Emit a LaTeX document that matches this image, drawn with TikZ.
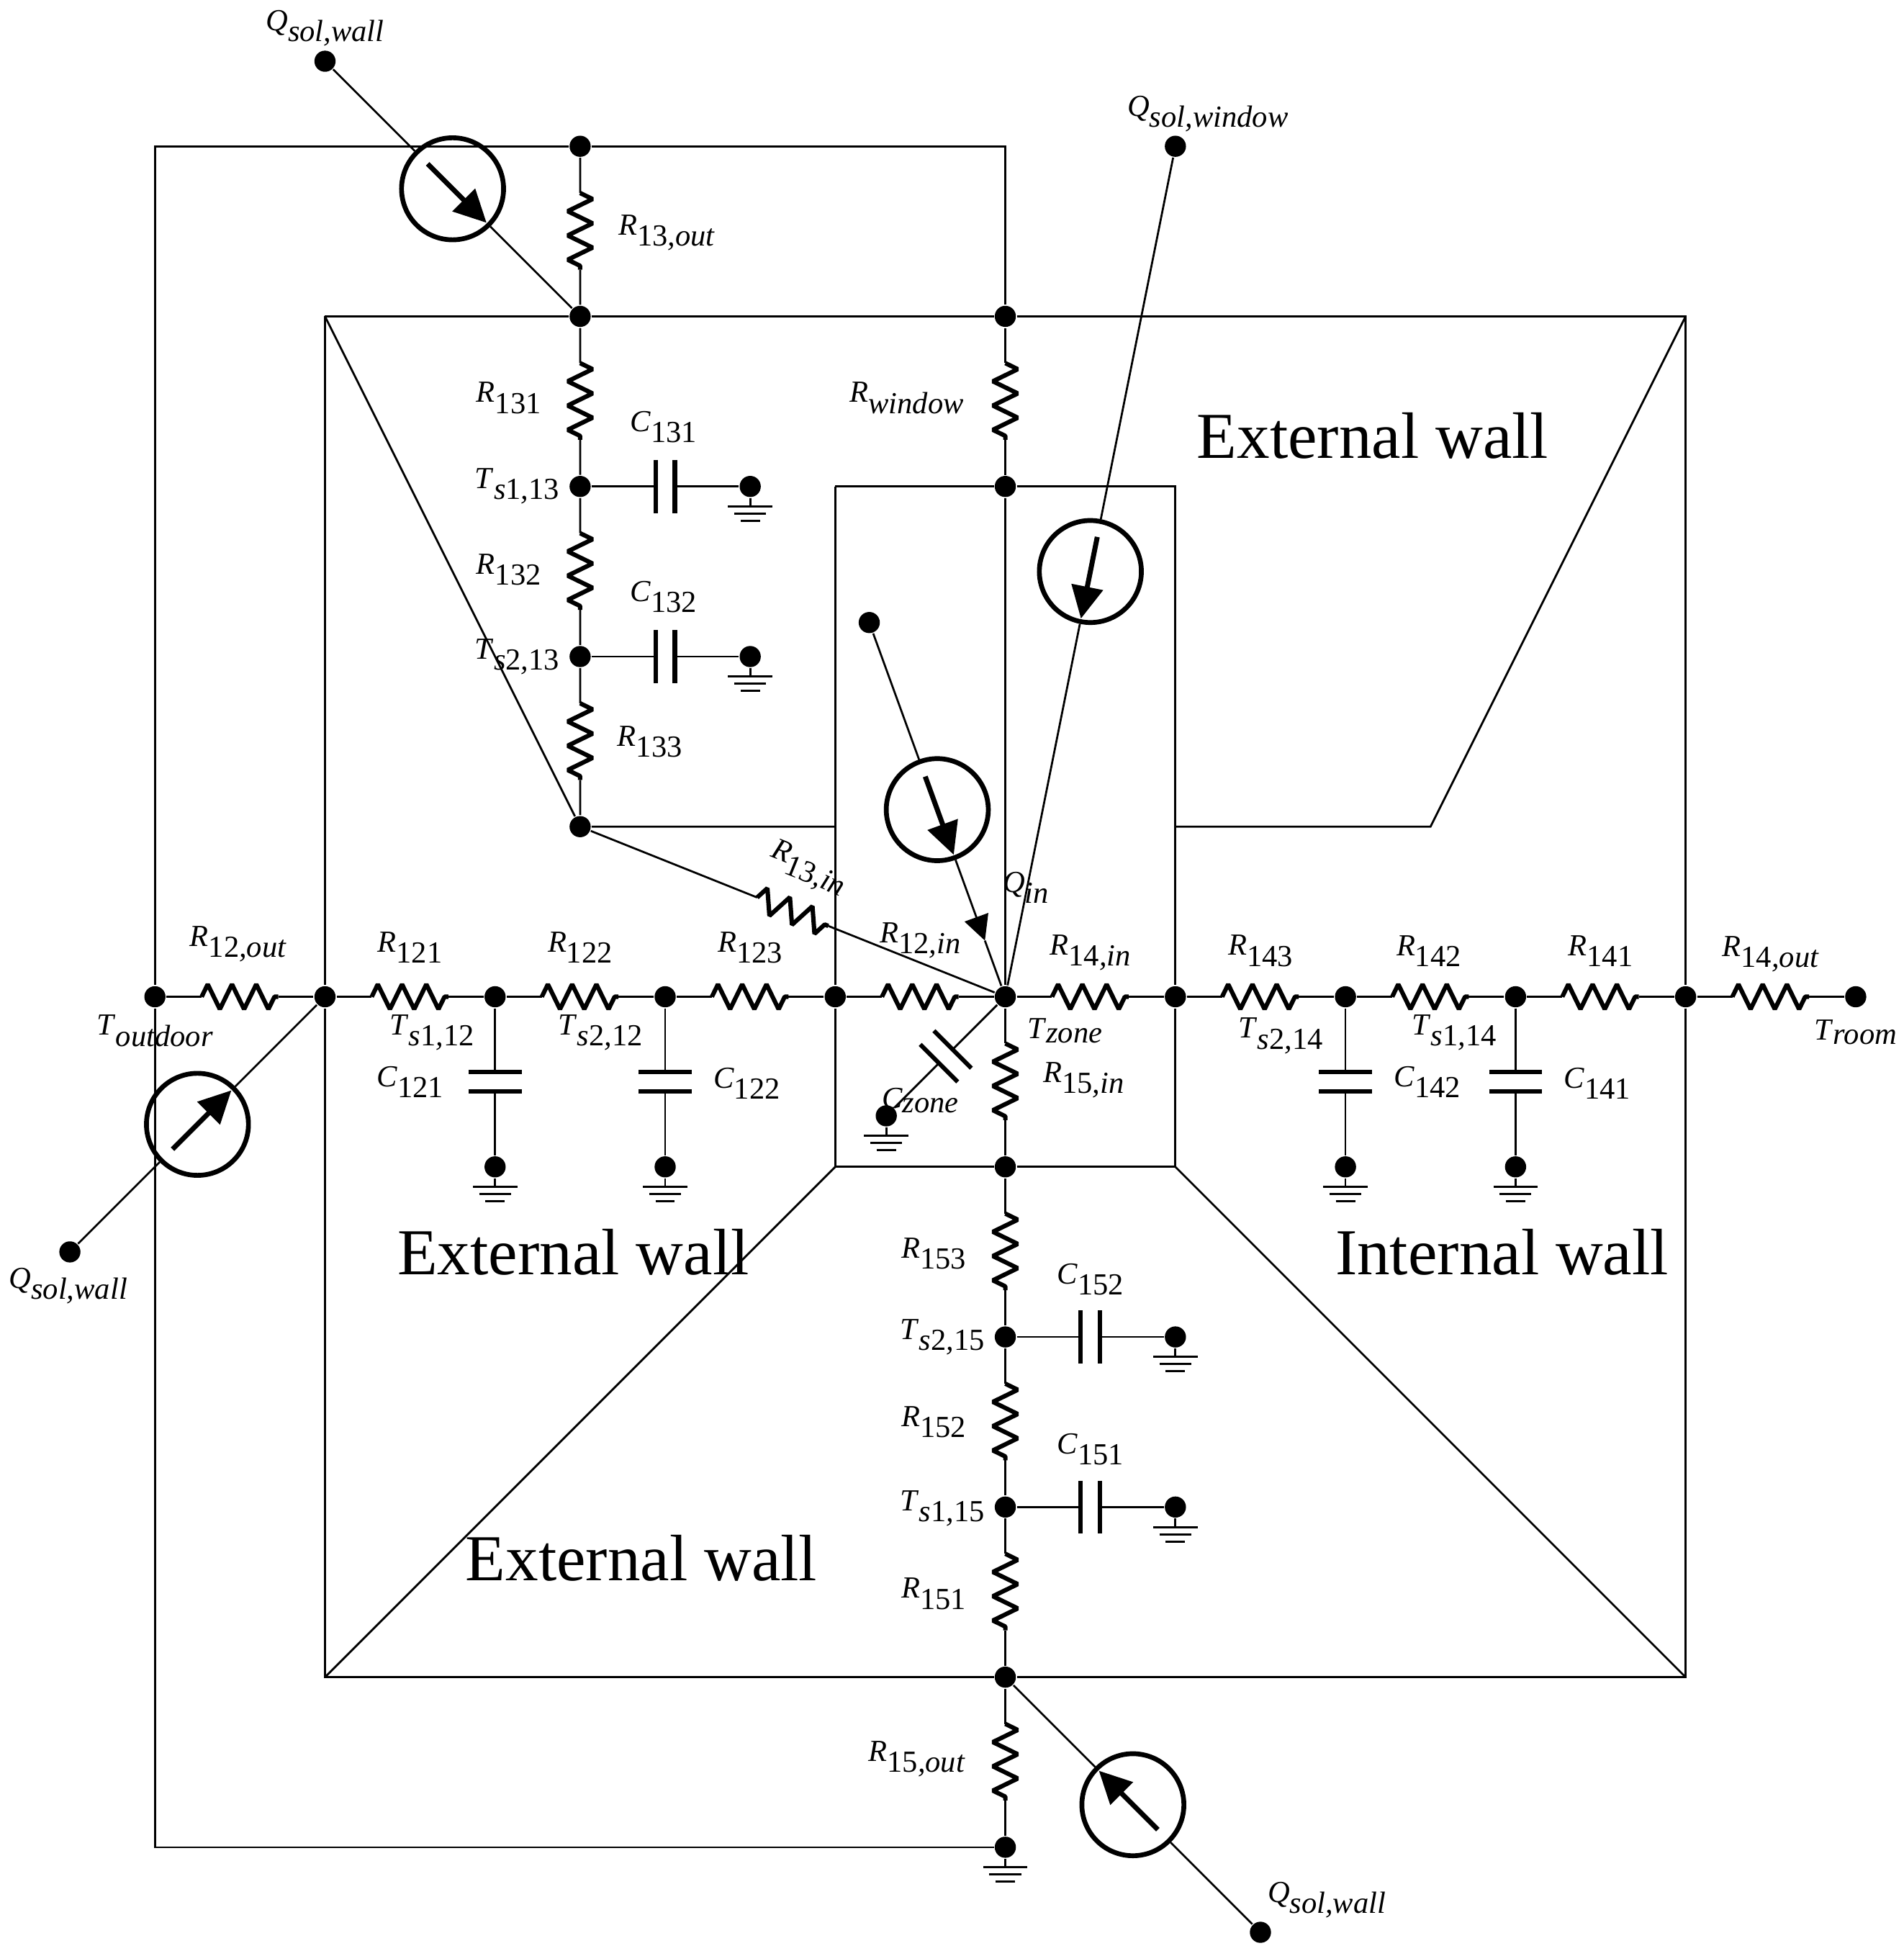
\documentclass[tikz,border=0pt]{standalone}
\usepackage{fontspec}
\setmainfont{Liberation Serif}
\usetikzlibrary{arrows.meta}
\usetikzlibrary{calc}
\usetikzlibrary{decorations.pathmorphing}
\newcommand{\lbl}[3][2.5pt]{\textit{#2}\raisebox{-#1}{#3}}

\begin{document}
\begin{tikzpicture}[x=1.367cm,y=1.367cm,line width=.45pt,
    dot/.style={circle,fill,inner sep=0,minimum size=.17cm},
    res/.style={inner sep=0,minimum width=.6cm,minimum height=.21cm,
      append after command={(\tikzlastnode.west) edge[line width=1pt,line join=bevel,decorate,decoration={zigzag,amplitude=.1cm,segment length=.195cm}] (\tikzlastnode.east)}},
    capa/.style={inner sep=0,minimum width=.14cm,minimum height=.41cm,
      append after command={(\tikzlastnode.north west) edge[line width=1pt] (\tikzlastnode.south west)
        (\tikzlastnode.north east) edge[line width=1pt] (\tikzlastnode.south east)}},
    ground/.style={inner sep=0,minimum width=.34cm,minimum height=.1cm,
      append after command={(\tikzlastnode.north west) edge[line width=.5pt] (\tikzlastnode.north east)
        ([xshift=.05cm]\tikzlastnode.west) edge[line width=.5pt] ([xshift=-.05cm]\tikzlastnode.east)
        ([xshift=.1cm]\tikzlastnode.south west) edge[line width=.5pt] ([xshift=-.1cm]\tikzlastnode.south east)}},
    src/.style={circle,draw,line width=1.1pt,inner sep=0,minimum size=.82cm,
      append after command={($(\tikzlastnode.west)!.17!(\tikzlastnode.east)$) edge[line width=1.15pt,-{Triangle[length=.26cm,width=.25cm]}] ($(\tikzlastnode.west)!.95!(\tikzlastnode.east)$)}},
    lab/.style={inner sep=0,font=\fontsize{7}{8.4}\selectfont},
    wall/.style={inner sep=0,font=\fontsize{15}{18}\selectfont}]

      \useasboundingbox (-5.911,5.86) rectangle (5.282,-5.61);

      % row through the zone
      \node[dot] (toutdoor) at (-5, 0) {};
      \node[dot] (w12o) at (-4, 0) {};
      \node[dot] (ts112) at (-3, 0) {};
      \node[dot] (ts212) at (-2, 0) {};
      \node[dot] (w12i) at (-1, 0) {};
      \node[dot] (tzone) at (0, 0) {};
      \node[dot] (w14i) at (1, 0) {};
      \node[dot] (ts214) at (2, 0) {};
      \node[dot] (ts114) at (3, 0) {};
      \node[dot] (w14o) at (4, 0) {};
      \node[dot] (troom) at (5, 0) {};

      % columns
      \node[dot] (t13) at (-2.5, 5) {};
      \node[dot] (w13o) at (-2.5, 4) {};
      \node[dot] (ts113) at (-2.5, 3) {};
      \node[dot] (ts213) at (-2.5, 2) {};
      \node[dot] (w13i) at (-2.5, 1) {};
      \node[dot] (wino) at (0, 4) {};
      \node[dot] (wini) at (0, 3) {};
      \node[dot] (w15i) at (0, -1) {};
      \node[dot] (ts215) at (0, -2) {};
      \node[dot] (ts115) at (0, -3) {};
      \node[dot] (w15o) at (0, -4) {};
      \node[dot] (t15) at (0, -5) {};

      % free ends of the solar sources
      \node[dot] (qw1) at (-4, 5.5) {};
      \node[dot] (qw2) at (1, 5) {};
      \node[dot] (qw3) at (-5.5, -1.5) {};
      \node[dot] (qw4) at (1.5, -5.5) {};
      \node[dot] (qin) at (-.8, 2.2) {};

      % dots above the grounds
      \node[dot] (g131) at (-1.5, 3) {};
      \node[dot] (g132) at (-1.5, 2) {};
      \node[dot] (g121) at (-3, -1) {};
      \node[dot] (g122) at (-2, -1) {};
      \node[dot] (g142) at (2, -1) {};
      \node[dot] (g141) at (3, -1) {};
      \node[dot] (g152) at (1, -2) {};
      \node[dot] (g151) at (1, -3) {};
      \node[dot] (gz) at (-.7, -.7) {};

      \node[ground] (e131) at (-1.5, 2.84) {};
      \node[ground] (e132) at (-1.5, 1.84) {};
      \node[ground] (e121) at (-3, -1.16) {};
      \node[ground] (e122) at (-2, -1.16) {};
      \node[ground] (e142) at (2, -1.16) {};
      \node[ground] (e141) at (3, -1.16) {};
      \node[ground] (e152) at (1, -2.16) {};
      \node[ground] (e151) at (1, -3.16) {};
      \node[ground] (ez) at (-.7, -.86) {};
      \node[ground] (e15) at (0, -5.16) {};

      % resistors
      \node[res] (r12o) at (-4.5, 0) {};
      \node[res] (r121) at (-3.5, 0) {};
      \node[res] (r122) at (-2.5, 0) {};
      \node[res] (r123) at (-1.5, 0) {};
      \node[res] (r12i) at (-.5, 0) {};
      \node[res] (r14i) at (.5, 0) {};
      \node[res] (r143) at (1.5, 0) {};
      \node[res] (r142) at (2.5, 0) {};
      \node[res] (r141) at (3.5, 0) {};
      \node[res] (r14o) at (4.5, 0) {};
      \node[res,rotate=-90] (r13o) at (-2.5, 4.5) {};
      \node[res,rotate=-90] (r131) at (-2.5, 3.5) {};
      \node[res,rotate=-90] (r132) at (-2.5, 2.5) {};
      \node[res,rotate=-90] (r133) at (-2.5, 1.5) {};
      \node[res,rotate=-90] (rwin) at (0, 3.5) {};
      \node[res,rotate=-90] (r15i) at (0, -.5) {};
      \node[res,rotate=-90] (r153) at (0, -1.5) {};
      \node[res,rotate=-90] (r152) at (0, -2.5) {};
      \node[res,rotate=-90] (r151) at (0, -3.5) {};
      \node[res,rotate=-90] (r15o) at (0, -4.5) {};
      \node[res,rotate=-21.8] (r13i) at (-1.25, .5) {};

      % capacitors
      \node[capa] (c131) at (-2, 3) {};
      \node[capa] (c132) at (-2, 2) {};
      \node[capa] (c152) at (.5, -2) {};
      \node[capa] (c151) at (.5, -3) {};
      \node[capa,rotate=90] (c121) at (-3, -.5) {};
      \node[capa,rotate=90] (c122) at (-2, -.5) {};
      \node[capa,rotate=90] (c142) at (2, -.5) {};
      \node[capa,rotate=90] (c141) at (3, -.5) {};
      \node[capa,rotate=45] (czone) at (-.35, -.35) {};

      % sources
      \node[src,rotate=-45] (s1) at (-3.25, 4.75) {};
      \node[src,rotate=-101.3] (s2) at (.5, 2.5) {};
      \node[src,rotate=-70] (s3) at (-.4, 1.1) {};
      \node[src,rotate=45] (s4) at (-4.75, -.75) {};
      \node[src,rotate=135] (s5) at (.75, -4.75) {};

      % corners of the walls
      \coordinate (cnw) at (-4, 4);
      \coordinate (cne) at (4, 4);
      \coordinate (cse) at (4, -4);
      \coordinate (csw) at (-4, -4);
      \coordinate (rnw) at (-1, 3);
      \coordinate (rne) at (1, 3);
      \coordinate (rse) at (1, -1);
      \coordinate (rsw) at (-1, -1);
      \coordinate (rl) at (-1, 1);
      \coordinate (rr) at (1, 1);
      \coordinate (kink) at (2.5, 1);
      \coordinate (lnw) at (-5, 5);
      \coordinate (lne) at (0, 5);
      \coordinate (lsw) at (-5, -5);
      \coordinate (qtip) at (-.12, .33);

      \draw (cnw) -- (w13o) -- (wino) -- (cne) -- (w14o) -- (cse) -- (w15o) -- (csw) -- (w12o) -- (cnw);
      \draw (rnw) -- (wini) -- (rne) -- (w14i) -- (rse) -- (w15i) -- (rsw) -- (w12i) -- (rnw);
      \draw (cnw) -- (w13i) -- (rl);
      \draw (rr) -- (kink) -- (cne);
      \draw (rsw) edge (csw);
      \draw (rse) edge (cse);
      \draw (wino) -- (lne) -- (t13) -- (lnw) -- (toutdoor) -- (lsw) -- (t15);
      \draw (wini) edge (tzone);

      \draw (toutdoor) -- (r12o) -- (w12o) -- (r121) -- (ts112) -- (r122) -- (ts212) -- (r123) -- (w12i) -- (r12i) -- (tzone);
      \draw (tzone) -- (r14i) -- (w14i) -- (r143) -- (ts214) -- (r142) -- (ts114) -- (r141) -- (w14o) -- (r14o) -- (troom);
      \draw (t13) -- (r13o) -- (w13o) -- (r131) -- (ts113) -- (r132) -- (ts213) -- (r133) -- (w13i) -- (r13i) -- (tzone);
      \draw (wino) -- (rwin) -- (wini);
      \draw (tzone) -- (r15i) -- (w15i) -- (r153) -- (ts215) -- (r152) -- (ts115) -- (r151) -- (w15o) -- (r15o) -- (t15);

      \draw (ts113) -- (c131) -- (g131);
      \draw (ts213) -- (c132) -- (g132);
      \draw (ts215) -- (c152) -- (g152);
      \draw (ts115) -- (c151) -- (g151);
      \draw (ts112) -- (c121) -- (g121);
      \draw (ts212) -- (c122) -- (g122);
      \draw (ts214) -- (c142) -- (g142);
      \draw (ts114) -- (c141) -- (g141);
      \draw (tzone) -- (czone) -- (gz);

      \draw (g131) edge (e131);
      \draw (g132) edge (e132);
      \draw (g121) edge (e121);
      \draw (g122) edge (e122);
      \draw (g142) edge (e142);
      \draw (g141) edge (e141);
      \draw (g152) edge (e152);
      \draw (g151) edge (e151);
      \draw (gz) edge (ez);
      \draw (t15) edge (e15);

      \draw (qw1) -- (s1) -- (w13o);
      \draw (qw2) -- (s2) -- (tzone);
      \draw (qw3) -- (s4) -- (w12o);
      \draw (qw4) -- (s5) -- (w15o);
      \draw (qin) -- (s3);
      \draw (s3) edge[-{Triangle[length=.2cm,width=.2cm]}] (qtip);
      \draw (qtip) edge (tzone);

      % labels
      \node[lab] (lq1) at (-4.00, 5.695) {\lbl{Q}{\textit{sol,wall}}};
      \node[lab] (lq2) at (1.19, 5.19) {\lbl{Q}{\textit{sol,window}}};
      \node[lab] (lq3) at (-5.51, -1.70) {\lbl{Q}{\textit{sol,wall}}};
      \node[lab] (lq4) at (1.89, -5.31) {\lbl{Q}{\textit{sol,wall}}};
      \node[lab] (lqin) at (.12, .64) {\lbl{Q}{\textit{in}}};
      \node[lab] (lr13o) at (-1.99, 4.49) {\lbl{R}{13\textit{,out}}};
      \node[lab] (lr131) at (-2.92, 3.52) {\lbl{R}{131}};
      \node[lab] (lc131) at (-2.01, 3.35) {\lbl{C}{131}};
      \node[lab] (lt113) at (-2.87, 3.00) {\lbl{T}{\textit{s}1\textit{,}13}};
      \node[lab] (lr132) at (-2.92, 2.51) {\lbl{R}{132}};
      \node[lab] (lc132) at (-2.01, 2.35) {\lbl{C}{132}};
      \node[lab] (lt213) at (-2.87, 2.00) {\lbl{T}{\textit{s}2\textit{,}13}};
      \node[lab] (lr133) at (-2.09, 1.50) {\lbl{R}{133}};
      \node[lab] (lrwin) at (-.58, 3.52) {\lbl{R}{\textit{window}}};
      \node[lab,rotate=-22] (lr13i) at (-1.16, .75) {\lbl{R}{13\textit{,in}}};
      \node[lab] (lr12o) at (-4.51, .31) {\lbl{R}{12\textit{,out}}};
      \node[lab] (lr121) at (-3.50, .29) {\lbl{R}{121}};
      \node[lab] (lr122) at (-2.50, .29) {\lbl{R}{122}};
      \node[lab] (lr123) at (-1.50, .29) {\lbl{R}{123}};
      \node[lab] (lr12i) at (-.50, .33) {\lbl{R}{12\textit{,in}}};
      \node[lab] (lr14i) at (.50, .26) {\lbl{R}{14\textit{,in}}};
      \node[lab] (lr143) at (1.50, .27) {\lbl{R}{143}};
      \node[lab] (lr142) at (2.49, .27) {\lbl{R}{142}};
      \node[lab] (lr141) at (3.50, .27) {\lbl{R}{141}};
      \node[lab] (lr14o) at (4.50, .25) {\lbl{R}{14\textit{,out}}};
      \node[lab] (ltout) at (-5.00, -.20) {\lbl{T}{\textit{outdoor}}};
      \node[lab] (lt112) at (-3.37, -.21) {\lbl{T}{\textit{s}1\textit{,}12}};
      \node[lab] (lt212) at (-2.38, -.21) {\lbl{T}{\textit{s}2\textit{,}12}};
      \node[lab] (ltz) at (.35, -.20) {\lbl[1pt]{T}{\textit{zone}}};
      \node[lab] (lt214) at (1.62, -.23) {\lbl{T}{\textit{s}2\textit{,}14}};
      \node[lab] (lt114) at (2.64, -.21) {\lbl{T}{\textit{s}1\textit{,}14}};
      \node[lab] (ltr) at (5.00, -.21) {\lbl[1pt]{T}{\textit{room}}};
      \node[lab] (lc121) at (-3.50, -.50) {\lbl{C}{121}};
      \node[lab] (lc122) at (-1.52, -.51) {\lbl{C}{122}};
      \node[lab] (lc142) at (2.48, -.50) {\lbl{C}{142}};
      \node[lab] (lc141) at (3.48, -.51) {\lbl{C}{141}};
      \node[lab] (lcz) at (-.50, -.61) {\lbl[1pt]{C}{\textit{zone}}};
      \node[lab] (lr15i) at (.46, -.49) {\lbl{R}{15\textit{,in}}};
      \node[lab] (lr153) at (-.42, -1.51) {\lbl{R}{153}};
      \node[lab] (lc152) at (.50, -1.66) {\lbl{C}{152}};
      \node[lab] (lt215) at (-.37, -2.00) {\lbl{T}{\textit{s}2\textit{,}15}};
      \node[lab] (lr152) at (-.42, -2.50) {\lbl{R}{152}};
      \node[lab] (lc151) at (.50, -2.66) {\lbl{C}{151}};
      \node[lab] (lt115) at (-.37, -3.01) {\lbl{T}{\textit{s}1\textit{,}15}};
      \node[lab] (lr151) at (-.42, -3.51) {\lbl{R}{151}};
      \node[lab] (lr15o) at (-.52, -4.48) {\lbl{R}{15\textit{,out}}};

      \node[wall] (lw1) at (2.16, 3.30) {External wall};
      \node[wall] (lw2) at (-2.54, -1.50) {External wall};
      \node[wall] (lw3) at (2.92, -1.50) {Internal wall};
      \node[wall] (lw4) at (-2.14, -3.30) {External wall};
    \end{tikzpicture}
\end{document}
